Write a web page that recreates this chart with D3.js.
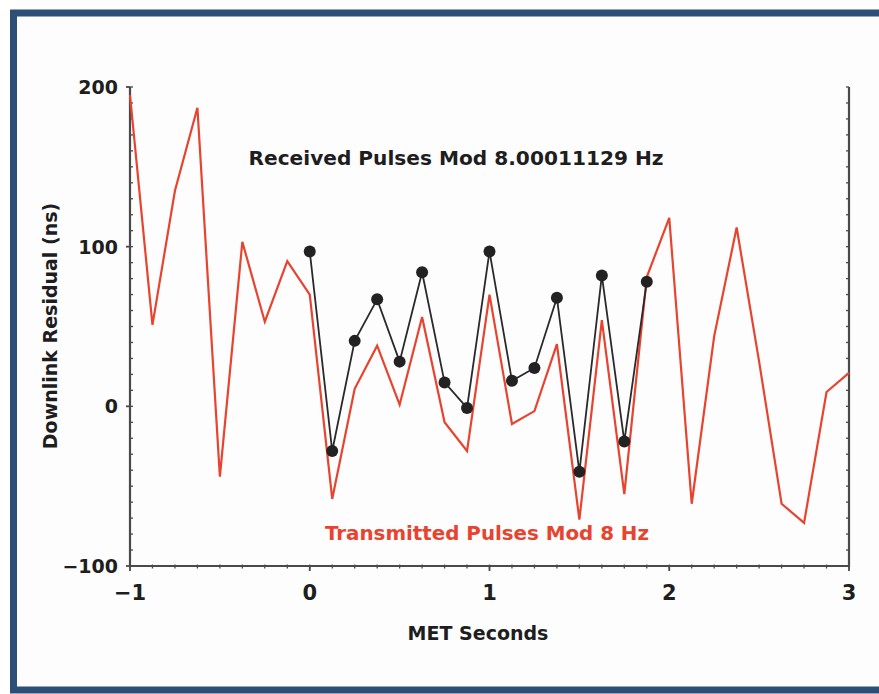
<!DOCTYPE html>
<html>
<head>
<meta charset="utf-8">
<script src="https://cdn.jsdelivr.net/npm/d3@7"></script>
<style>
  html, body { margin: 0; padding: 0; background: #ffffff; }
  svg { display: block; }
  .lbl { font-family: "DejaVu Sans", sans-serif; font-weight: bold; fill: #1e1e1e; }
</style>
</head>
<body>
<div id="chart"></div>
<script>
// chart data
const txTimes = [-1, -0.875, -0.75, -0.625, -0.5, -0.375, -0.25, -0.125,
    0, 0.125, 0.25, 0.375, 0.5, 0.625, 0.75, 0.875,
    1, 1.125, 1.25, 1.375, 1.5, 1.625, 1.75, 1.875,
    2, 2.125, 2.25, 2.375, 2.5, 2.625, 2.75, 2.875, 3];
const txResidual = [195, 51, 135, 187, -44, 103, 53, 91,
    70, -58, 11, 38, 1, 56, -10, -28,
    70, -11, -3, 39, -71, 54, -55, 81,
    118, -61, 44, 112, 28, -61, -73, 9, 21];

const rxTimes = [0, 0.125, 0.25, 0.375, 0.5, 0.625, 0.75, 0.875,
    1, 1.125, 1.25, 1.375, 1.5, 1.625, 1.75, 1.875];
const rxResidual = [97, -28, 41, 67, 28, 84, 15, -1,
    97, 16, 24, 68, -41, 82, -22, 78];

const xTicks = [-1, 0, 1, 2, 3];
const yTicks = [-100, 0, 100, 200];

const W = 879, H = 694;

const svg = d3.select("#chart").append("svg")
    .attr("width", W)
    .attr("height", H);

// frame
svg.append("rect")
    .attr("x", 0).attr("y", 0).attr("width", W).attr("height", H)
    .attr("fill", "#ffffff");
svg.append("rect")
    .attr("x", 13.5).attr("y", 13)
    .attr("width", W + 20).attr("height", 677)
    .attr("fill", "#fdfdfd")
    .attr("stroke", "#2e4f75")
    .attr("stroke-width", 7);

const x = d3.scaleLinear().domain([-1, 3]).range([130, 849]);
const y = d3.scaleLinear().domain([-100, 200]).range([566, 87]);

// axes
const axisColor = "#4a4a4a";
const xMinor = d3.range(-1, 3.0001, 0.125);
const yMinor = d3.range(-100, 200.001, 10);

const g = svg.append("g");

// minor ticks
g.selectAll(".xminor").data(xMinor).join("line")
    .attr("x1", d => x(d)).attr("x2", d => x(d))
    .attr("y1", y(-100) - 1.5).attr("y2", y(-100) + 2.5)
    .attr("stroke", axisColor).attr("stroke-width", 1.3);
g.selectAll(".xmajor").data(xTicks).join("line")
    .attr("x1", d => x(d)).attr("x2", d => x(d))
    .attr("y1", y(-100)).attr("y2", y(-100) + 5)
    .attr("stroke", axisColor).attr("stroke-width", 1.8);
g.selectAll(".yminorL").data(yMinor).join("line")
    .attr("x1", x(-1)).attr("x2", x(-1) + 3)
    .attr("y1", d => y(d)).attr("y2", d => y(d))
    .attr("stroke", axisColor).attr("stroke-width", 1.3);
g.selectAll(".ymajorL").data(yTicks).join("line")
    .attr("x1", x(-1) - 4).attr("x2", x(-1))
    .attr("y1", d => y(d)).attr("y2", d => y(d))
    .attr("stroke", axisColor).attr("stroke-width", 1.8);
g.selectAll(".yminorR").data(yMinor).join("line")
    .attr("x1", x(3) - 3).attr("x2", x(3))
    .attr("y1", d => y(d)).attr("y2", d => y(d))
    .attr("stroke", axisColor).attr("stroke-width", 1.3);

// axis lines
g.append("path")
    .attr("d", `M${x(-1)},${y(200)}V${y(-100)}H${x(3)}V${y(200)}`)
    .attr("fill", "none")
    .attr("stroke", axisColor)
    .attr("stroke-width", 2.2);

// tick labels
g.selectAll(".xlab").data(xTicks).join("text")
    .attr("class", "lbl")
    .attr("x", d => x(d)).attr("y", 600)
    .attr("text-anchor", "middle")
    .attr("font-size", 21)
    .text(d => d3.format("")(d));
g.selectAll(".ylab").data(yTicks).join("text")
    .attr("class", "lbl")
    .attr("x", 118).attr("y", d => y(d) + 7)
    .attr("text-anchor", "end")
    .attr("font-size", 19)
    .text(d => d3.format("")(d));

// axis titles
svg.append("text")
    .attr("class", "lbl")
    .attr("x", 478).attr("y", 640)
    .attr("text-anchor", "middle")
    .attr("font-size", 19)
    .text("MET Seconds");
svg.append("text")
    .attr("class", "lbl")
    .attr("transform", `translate(57,326) rotate(-90)`)
    .attr("text-anchor", "middle")
    .attr("font-size", 19)
    .text("Downlink Residual (ns)");

// series
const tx = txTimes.map((t, i) => [t, txResidual[i]]);
const rx = rxTimes.map((t, i) => [t, rxResidual[i]]);
const line = d3.line().x(d => x(d[0])).y(d => y(d[1]));

svg.append("path")
    .attr("d", line(tx))
    .attr("fill", "none")
    .attr("stroke", "#e8432e")
    .attr("stroke-width", 2.2)
    .attr("stroke-linejoin", "miter");

svg.append("path")
    .attr("d", line(rx))
    .attr("fill", "none")
    .attr("stroke", "#2a2a2a")
    .attr("stroke-width", 1.8);

svg.selectAll(".dot").data(rx).join("circle")
    .attr("cx", d => x(d[0]))
    .attr("cy", d => y(d[1]))
    .attr("r", 6)
    .attr("fill", "#222222");

// series labels
svg.append("text")
    .attr("class", "lbl")
    .attr("x", 456).attr("y", 165)
    .attr("text-anchor", "middle")
    .attr("font-size", 19)
    .attr("textLength", 415)
    .attr("lengthAdjust", "spacingAndGlyphs")
    .text("Received Pulses Mod 8.00011129 Hz");
svg.append("text")
    .attr("class", "lbl")
    .attr("x", 487).attr("y", 540)
    .attr("text-anchor", "middle")
    .attr("font-size", 19)
    .style("fill", "#e8432e")
    .attr("textLength", 324)
    .attr("lengthAdjust", "spacingAndGlyphs")
    .text("Transmitted Pulses Mod 8 Hz");
</script>
</body>
</html>
